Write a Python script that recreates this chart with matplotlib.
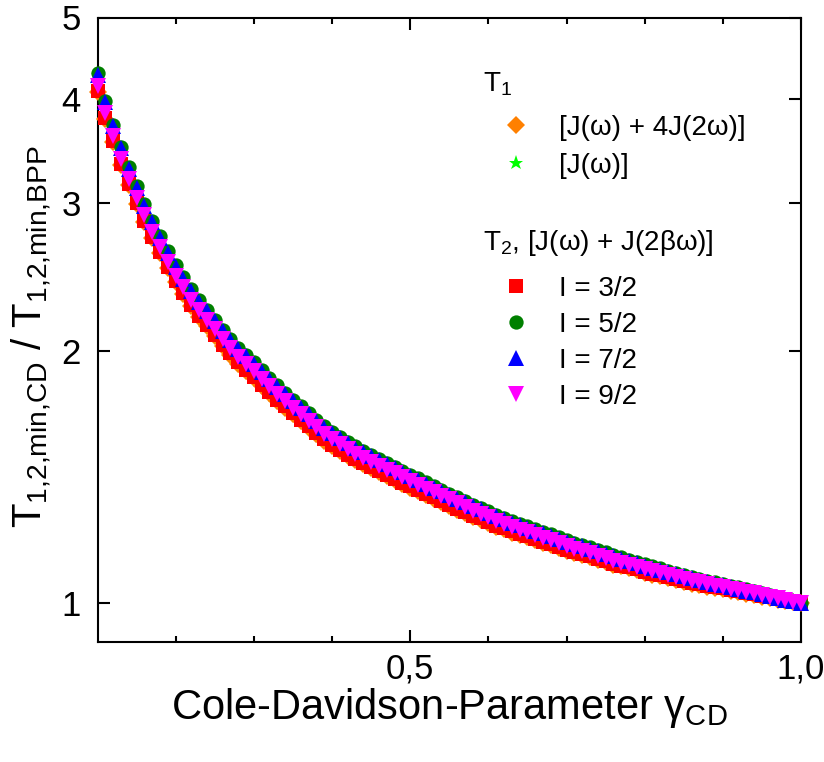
import numpy as np
import matplotlib
matplotlib.use("Agg")
import matplotlib.pyplot as plt
from matplotlib.lines import Line2D
from matplotlib.ticker import FixedLocator, FixedFormatter, NullLocator

plt.rcParams['font.family'] = ['Liberation Sans', 'DejaVu Sans']
plt.rcParams['mathtext.fontset'] = 'custom'
plt.rcParams['mathtext.rm'] = 'Liberation Sans'
plt.rcParams['mathtext.default'] = 'regular'

# Cole-Davidson parameter (0.10 ... 1.00 in steps of 0.01)
gamma = np.round(np.arange(10, 101) / 100, 2)

# T2, I = 7/2 (blue up-triangles)
t2_i72 = [4.27, 3.96, 3.71, 3.49, 3.30, 3.13, 2.98, 2.85, 2.73, 2.62,
          2.52, 2.44, 2.36, 2.29, 2.23, 2.17, 2.11, 2.06, 2.01, 1.97,
          1.93, 1.888, 1.849, 1.812, 1.777, 1.743, 1.711, 1.680, 1.649, 1.620,
          1.596, 1.574, 1.552, 1.533, 1.514, 1.497, 1.481, 1.465, 1.449, 1.433,
          1.418, 1.403, 1.388, 1.374, 1.360, 1.346, 1.332, 1.319, 1.305, 1.294,
          1.282, 1.269, 1.259, 1.248, 1.239, 1.230, 1.221, 1.212, 1.203, 1.194,
          1.184, 1.176, 1.169, 1.161, 1.153, 1.145, 1.137, 1.130, 1.123, 1.116,
          1.109, 1.102, 1.096, 1.089, 1.083, 1.077, 1.071, 1.066, 1.060, 1.055,
          1.050, 1.045, 1.040, 1.035, 1.030, 1.025, 1.020, 1.015, 1.010, 1.005,
          1.000]

# T2, I = 5/2 (green circles)
t2_i52 = [4.287, 3.976, 3.725, 3.504, 3.313, 3.143, 2.992, 2.861, 2.741, 2.630,
          2.530, 2.450, 2.369, 2.299, 2.239, 2.179, 2.118, 2.068, 2.018, 1.978,
          1.938, 1.896, 1.856, 1.819, 1.784, 1.750, 1.718, 1.687, 1.656, 1.626,
          1.602, 1.580, 1.558, 1.539, 1.520, 1.503, 1.487, 1.471, 1.455, 1.439,
          1.424, 1.409, 1.394, 1.379, 1.365, 1.351, 1.337, 1.324, 1.310, 1.299,
          1.287, 1.274, 1.264, 1.253, 1.244, 1.235, 1.226, 1.217, 1.208, 1.199,
          1.189, 1.181, 1.174, 1.166, 1.158, 1.150, 1.142, 1.135, 1.127, 1.120,
          1.113, 1.106, 1.100, 1.093, 1.087, 1.081, 1.075, 1.070, 1.064, 1.059,
          1.054, 1.049, 1.044, 1.039, 1.034, 1.029, 1.024, 1.018, 1.012, 1.006,
          1.001]

# T2, I = 3/2 (red squares)
t2_i32 = [4.091, 3.794, 3.558, 3.347, 3.165, 3.005, 2.861, 2.736, 2.624, 2.518,
          2.422, 2.347, 2.270, 2.203, 2.147, 2.090, 2.032, 1.986, 1.938, 1.899,
          1.862, 1.822, 1.786, 1.750, 1.717, 1.685, 1.655, 1.625, 1.596, 1.568,
          1.545, 1.525, 1.504, 1.485, 1.469, 1.452, 1.437, 1.423, 1.407, 1.391,
          1.378, 1.364, 1.349, 1.337, 1.323, 1.310, 1.297, 1.285, 1.271, 1.262,
          1.250, 1.237, 1.229, 1.218, 1.209, 1.202, 1.193, 1.184, 1.177, 1.168,
          1.158, 1.151, 1.144, 1.137, 1.130, 1.122, 1.114, 1.109, 1.103, 1.097,
          1.090, 1.084, 1.080, 1.074, 1.069, 1.064, 1.058, 1.054, 1.049, 1.046,
          1.042, 1.038, 1.033, 1.029, 1.025, 1.021, 1.017, 1.012, 1.008, 1.004,
          1.000]

# T2, I = 9/2 (magenta down-triangles)
t2_i92 = [4.146, 3.845, 3.606, 3.392, 3.211, 3.045, 2.903, 2.776, 2.662, 2.555,
          2.460, 2.381, 2.303, 2.237, 2.179, 2.122, 2.064, 2.017, 1.968, 1.931,
          1.891, 1.850, 1.814, 1.778, 1.743, 1.712, 1.680, 1.650, 1.621, 1.592,
          1.569, 1.547, 1.527, 1.508, 1.490, 1.475, 1.459, 1.443, 1.429, 1.413,
          1.398, 1.383, 1.370, 1.356, 1.342, 1.330, 1.316, 1.303, 1.289, 1.278,
          1.267, 1.254, 1.244, 1.233, 1.224, 1.215, 1.206, 1.197, 1.189, 1.180,
          1.170, 1.162, 1.155, 1.147, 1.139, 1.131, 1.123, 1.116, 1.111, 1.104,
          1.098, 1.091, 1.086, 1.079, 1.074, 1.068, 1.064, 1.059, 1.054, 1.049,
          1.045, 1.040, 1.036, 1.031, 1.027, 1.022, 1.018, 1.013, 1.009, 1.004,
          1.000]

# T1, [J(w) + 4J(2w)] (orange diamonds)
t1_j4j = [4.079, 3.783, 3.547, 3.337, 3.156, 2.996, 2.852, 2.728, 2.616, 2.510,
          2.415, 2.340, 2.263, 2.196, 2.141, 2.084, 2.026, 1.980, 1.932, 1.893,
          1.856, 1.817, 1.781, 1.745, 1.712, 1.680, 1.650, 1.620, 1.591, 1.563,
          1.540, 1.520, 1.500, 1.481, 1.465, 1.448, 1.433, 1.419, 1.403, 1.387,
          1.374, 1.360, 1.345, 1.333, 1.319, 1.306, 1.293, 1.281, 1.267, 1.258,
          1.246, 1.233, 1.225, 1.214, 1.205, 1.198, 1.189, 1.180, 1.173, 1.164,
          1.155, 1.148, 1.141, 1.134, 1.127, 1.119, 1.111, 1.106, 1.100, 1.094,
          1.087, 1.081, 1.077, 1.071, 1.066, 1.061, 1.055, 1.051, 1.046, 1.043,
          1.039, 1.035, 1.030, 1.026, 1.022, 1.018, 1.014, 1.010, 1.006, 1.002,
          1.000]

# T1, [J(w)] (lime stars) - hidden beneath the I = 7/2 markers
t1_j = list(t2_i72)

x_major = [0.5, 1.0]
x_major_labels = ['0,5', '1,0']
x_minor = [0.2, 0.3, 0.4, 0.6, 0.7, 0.8, 0.9]
y_ticks = [1, 2, 3, 4, 5]
y_tick_labels = ['1', '2', '3', '4', '5']

W, H = 824, 762
fig = plt.figure(figsize=(W / 100, H / 100), dpi=100)
ax = fig.add_axes([97.5 / W, 1 - 641.5 / H, (801 - 97.5) / W, (641.5 - 17.5) / H])

series = [
    (t1_j4j, 'D', '#ff8000', 8.8, '[J(ω) + 4J(2ω)]'),
    (t1_j, '*', '#00ff00', 11.3, '[J(ω)]'),
    (t2_i32, 's', '#ff0000', 9.6, 'I = 3/2'),
    (t2_i52, 'o', '#008000', 10.3, 'I = 5/2'),
    (t2_i72, '^', '#0000ff', 11.5, 'I = 7/2'),
    (t2_i92, 'v', '#ff00ff', 11.5, 'I = 9/2'),
]
handles = []
for vals, mk, col, ms, lab in series:
    ax.plot(gamma, vals, linestyle='none', marker=mk, color=col, markersize=ms,
            markeredgewidth=0, clip_on=False, zorder=3)
    handles.append(Line2D([], [], linestyle='none', marker=mk, color=col,
                          markersize=ms, markeredgewidth=0, label=lab))

ax.set_yscale('log')
ax.set_xlim(0.1, 1.0)
ax.set_ylim(0.9, 5.0)
ax.xaxis.set_major_locator(FixedLocator(x_major))
ax.xaxis.set_major_formatter(FixedFormatter(x_major_labels))
ax.xaxis.set_minor_locator(FixedLocator(x_minor))
ax.yaxis.set_major_locator(FixedLocator(y_ticks))
ax.yaxis.set_major_formatter(FixedFormatter(y_tick_labels))
ax.yaxis.set_minor_locator(NullLocator())

for s in ax.spines.values():
    s.set_linewidth(1.5)
ax.tick_params(axis='both', which='both', direction='in', top=True, right=True,
               width=1.5, labelsize=25)
ax.tick_params(axis='x', which='major', length=8.5, pad=8)
ax.tick_params(axis='x', which='minor', length=4)
ax.tick_params(axis='y', which='major', length=8.5, pad=12)

ax.set_xlabel('Cole-Davidson-Parameter γ$_{CD}$', fontsize=30)
ax.xaxis.set_label_coords(0.5, -0.072)
ax.set_ylabel('T$_{1{,}2{,}min{,}CD}$ / T$_{1{,}2{,}min{,}BPP}$', fontsize=29)
ax.yaxis.set_label_coords(-0.062, 0.488)

fs = 20
leg1 = ax.legend(handles=handles[:2], loc='upper left',
                 bbox_to_anchor=(502 / W, 1 - 115 / H), bbox_transform=fig.transFigure,
                 frameon=False, fontsize=fs, handlelength=1.0, handletextpad=1.05,
                 borderpad=0, borderaxespad=0, labelspacing=0.44)
ax.add_artist(leg1)
leg2 = ax.legend(handles=handles[2:], loc='upper left',
                 bbox_to_anchor=(502 / W, 1 - 276 / H), bbox_transform=fig.transFigure,
                 frameon=False, fontsize=fs, handlelength=1.0, handletextpad=1.05,
                 borderpad=0, borderaxespad=0, labelspacing=0.36)

fig.text(483 / W, 1 - 91 / H, 'T$_1$', fontsize=fs, ha='left', va='baseline')
fig.text(483 / W, 1 - 250 / H, 'T$_2$, [J(ω) + J(2βω)]', fontsize=fs,
         ha='left', va='baseline')

fig.savefig('out.png', dpi=100)
